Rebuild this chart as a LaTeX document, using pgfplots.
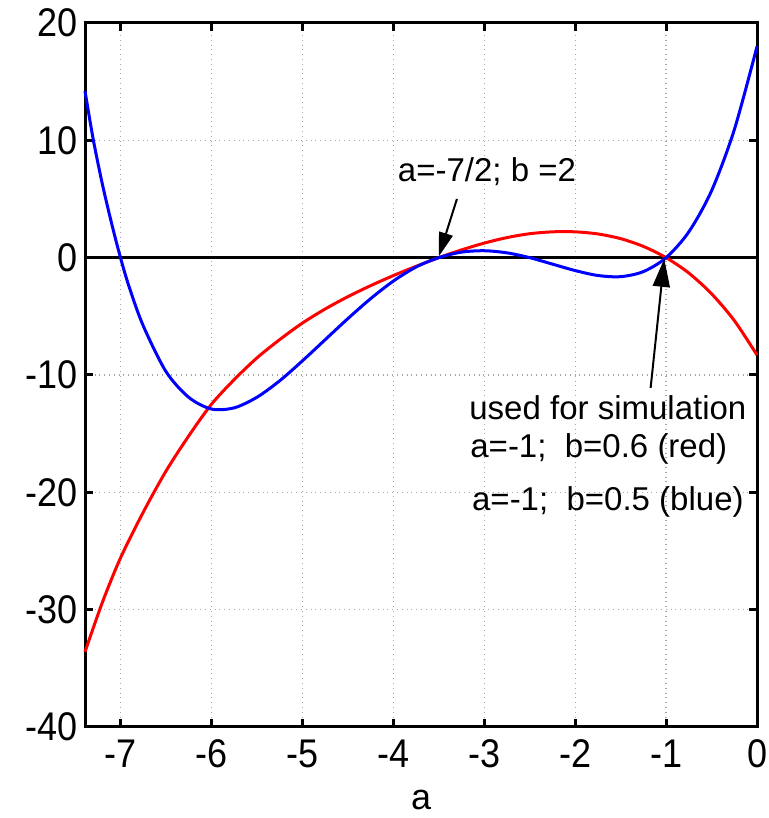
\documentclass[border=0pt]{standalone}
\usepackage{fontspec}
\setmainfont{Liberation Sans}
\newfontfamily\tickfont[FakeStretch=0.9]{Liberation Sans}
\usepackage{pgfplots}
\pgfplotsset{compat=1.18}
\usetikzlibrary{arrows.meta}

\begin{document}
\begin{tikzpicture}
\begin{axis}[
    width=336pt, height=352pt, scale only axis,
    xmin=-7.39, xmax=0, ymin=-40, ymax=20,
    xtick={-7,-6,-5,-4,-3,-2,-1,0},
    ytick={-40,-30,-20,-10,0,10,20},
    grid=major,
    major grid style={dotted, gray!70, line width=0.6pt},
    axis line style={line width=1.5pt},
    tick style={black, line width=1.5pt},
    major tick length=4pt,
    tick align=inside,
    xlabel={a},
    ticklabel style={font=\tickfont\fontsize{20}{22}\selectfont},
    xticklabel style={yshift=-3pt},
    label style={font=\fontsize{18}{20}\selectfont},
    xlabel style={yshift=-4pt},
    /pgf/number format/assume math mode=true,
    clip=false,
]
% zero line
\addplot[black, line width=1.6pt] coordinates {(-7.39,0) (0,0)};

% red: b = 0.6
\addplot[red, line width=1.5pt, smooth] coordinates {
    (-7.39,-33.6) (-7.2,-29.4) (-7.0,-25.6) (-6.75,-21.7) (-6.5,-18.2)
    (-6.25,-15.2) (-6.0,-12.5) (-5.75,-10.4) (-5.5,-8.55) (-5.25,-6.99)
    (-5.0,-5.58) (-4.75,-4.38) (-4.5,-3.33) (-4.25,-2.39) (-4.0,-1.53)
    (-3.75,-0.74) (-3.5,0) (-3.25,0.66) (-3.0,1.24) (-2.75,1.71)
    (-2.5,2.04) (-2.25,2.2) (-2.0,2.2) (-1.75,2.02) (-1.5,1.62)
    (-1.25,0.96) (-1.0,0) (-0.75,-1.31) (-0.5,-3.08) (-0.25,-5.36)
    (0,-8.3)
};

% blue: b = 0.5
\addplot[blue, line width=1.5pt, smooth] coordinates {
    (-7.39,14.2) (-7.3,10.1) (-7.2,6.3) (-7.1,3.0) (-7.0,0) (-6.9,-2.6)
    (-6.75,-5.8) (-6.5,-9.7) (-6.25,-11.9) (-6.0,-12.9) (-5.75,-12.8)
    (-5.5,-11.9) (-5.25,-10.5) (-5.0,-8.8) (-4.75,-7.0) (-4.5,-5.2)
    (-4.25,-3.5) (-4.0,-2.0) (-3.75,-0.8) (-3.5,0) (-3.25,0.47)
    (-3.0,0.59) (-2.75,0.41) (-2.5,0) (-2.25,-0.55) (-2.0,-1.1)
    (-1.75,-1.52) (-1.5,-1.62) (-1.25,-1.19) (-1.0,0)
    (-0.75,2.2) (-0.5,5.7) (-0.25,10.9) (0,18.0)
};

% annotations
\draw[line width=1pt, -{Triangle[length=12pt, width=7pt]}]
    (axis cs:-3.30,5.0) -- (axis cs:-3.50,0.1);
\draw[line width=1pt, -{Triangle[length=14pt, width=8.5pt]}]
    (axis cs:-1.17,-11.1) -- (axis cs:-1.02,-0.1);
\node[font=\fontsize{16.5}{18}\selectfont] at (axis cs:-2.97,7.3) {a=-7/2; b =2};
\node[font=\fontsize{16.5}{18}\selectfont] at (axis cs:-1.64,-12.8) {used for simulation};
\node[font=\fontsize{16.5}{18}\selectfont] at (axis cs:-1.74,-16.3) {a=-1;\ \ b=0.6 (red)};
\node[font=\fontsize{16.5}{18}\selectfont] at (axis cs:-1.64,-20.8) {a=-1;\ \ b=0.5 (blue)};
\end{axis}
\pgfresetboundingbox
\path[use as bounding box]
    ([shift={(-42.5pt,-45.5pt)}]current axis.south west) rectangle
    ([shift={(5.5pt,11.5pt)}]current axis.north east);
\end{tikzpicture}
\end{document}
